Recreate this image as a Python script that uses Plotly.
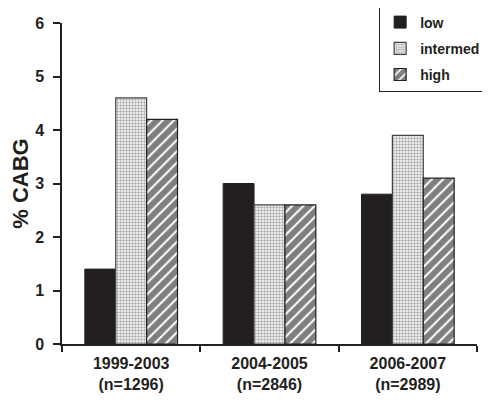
import plotly.graph_objects as go

categories = ["1999-2003<br>(n=1296)", "2004-2005<br>(n=2846)", "2006-2007<br>(n=2989)"]
series_names = ["low", "intermed", "high"]
low_vals = [1.4, 3.0, 2.8]
intermed_vals = [4.6, 2.6, 3.9]
high_vals = [4.2, 2.6, 3.1]
y_ticks = [0, 1, 2, 3, 4, 5, 6]

FONT = "Liberation Sans, Arial, sans-serif"
INK = "#231f20"

fig = go.Figure()
fig.add_trace(go.Bar(
    name=series_names[0], x=categories, y=low_vals, legendgroup="a",
    marker=dict(color=INK, line=dict(color=INK, width=1)),
))
fig.add_trace(go.Bar(
    name=series_names[1], x=categories, y=intermed_vals, legendgroup="b",
    marker=dict(color="white", line=dict(color="#444444", width=1.2),
                pattern=dict(shape=".", fgcolor="#555555", bgcolor="white",
                             size=3, solidity=0.5)),
))
fig.add_trace(go.Bar(
    name=series_names[2], x=categories, y=high_vals, legendgroup="c",
    marker=dict(color="white", line=dict(color=INK, width=1.2),
                pattern=dict(shape="/", fgcolor="black", bgcolor="white",
                             size=8, solidity=0.75)),
))

# page body has an 8px margin, so the figure is sized to fit the 490x409 window
fig.update_layout(
    width=482, height=401,
    margin=dict(l=54, r=13, t=15, b=65, autoexpand=False),
    paper_bgcolor="white", plot_bgcolor="white",
    barmode="group", bargap=0.33, bargroupgap=0,
    font=dict(family=FONT, color=INK, size=16, weight="bold"),
    showlegend=True,
    legend=dict(
        x=0.763, xanchor="left", y=1.056, yanchor="top",
        bordercolor=INK, borderwidth=1.5, bgcolor="white",
        font=dict(family=FONT, size=14, color=INK, weight="bold"),
        tracegroupgap=5, itemwidth=30,
    ),
    xaxis=dict(
        type="category", showline=True, linecolor=INK, linewidth=1.5, automargin=False,
        ticks="outside", tickson="boundaries", ticklen=6, tickcolor=INK, tickwidth=1.5,
        tickfont=dict(family=FONT, size=16, color=INK, weight="bold"),
        ticklabelstandoff=4,
        showgrid=False, zeroline=False,
    ),
    yaxis=dict(
        range=[0, 6], tickvals=y_ticks, showline=True, linecolor=INK, linewidth=1.5,
        automargin=False,
        ticks="outside", ticklen=7, tickcolor=INK, tickwidth=1.5,
        tickfont=dict(family=FONT, size=16, color=INK, weight="bold"),
        ticklabelstandoff=6,
        showgrid=False, zeroline=False,
        title=dict(text="% CABG", font=dict(family=FONT, size=22, color=INK, weight="bold"),
                   standoff=10),
    ),
)

fig.write_html("out.html")
